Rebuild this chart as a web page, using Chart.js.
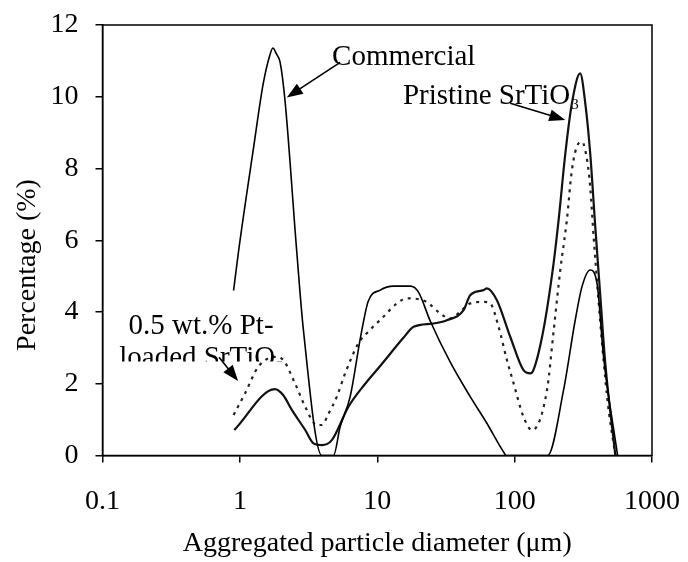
<!DOCTYPE html>
<html>
<head>
<meta charset="utf-8">
<script src="https://cdn.jsdelivr.net/npm/chart.js@4.4.1/dist/chart.umd.min.js"></script>
<style>
html,body{margin:0;padding:0;background:#fff;}
#wrap{width:688px;height:562px;position:relative;}
</style>
</head>
<body>
<div id="wrap"><canvas id="chart"></canvas></div>
<script>
// particle size distributions, x = diameter (um), y = percentage
var commercialX = [0.9, 0.98, 1.25, 1.48, 1.65, 1.74, 1.84, 1.96, 2.13, 2.59, 2.9, 3.95, 4.8, 5.37, 6.35, 7.6, 8.6, 10.5, 13.1, 17.4, 19.9, 24.3, 34, 47.5, 62.8, 83, 87, 174, 227, 276, 309, 355, 398, 444, 562];
var commercialY = [4.6, 5.72, 8.51, 10.37, 11.15, 11.36, 11.2, 10.97, 9.9, 5.72, 3.5, 0, 0, 0.8, 1.64, 3.35, 4.3, 4.61, 4.72, 4.72, 4.56, 3.75, 2.6, 1.64, 0.9, 0.1, 0, 0, 1.82, 3.77, 4.7, 5.17, 4.8, 2.75, 0];

var pristineX = [0.91, 1.8, 2.07, 2.39, 2.99, 3.43, 3.95, 4.67, 6.17, 8.17, 10.8, 15.5, 18.4, 25.7, 32.1, 42.5, 47.5, 59.3, 62.8, 74.3, 92.9, 116, 130, 137, 162, 192, 209, 234, 261, 300, 327, 355, 386, 421, 457, 541];
var pristineY = [0.71, 1.85, 1.68, 1.27, 0.71, 0.34, 0.29, 0.43, 1.36, 2.0, 2.55, 3.28, 3.59, 3.68, 3.77, 4.05, 4.47, 4.61, 4.66, 4.33, 3.31, 2.38, 2.29, 2.38, 3.5, 5.35, 6.56, 8.42, 9.81, 10.65, 9.81, 8.42, 6.4, 4.42, 2.57, 0];

var ptLoadedX = [0.9, 1.09, 1.36, 1.8, 2.07, 2.52, 2.99, 3.63, 3.95, 4.42, 5.08, 5.84, 7.3, 8.87, 11.1, 13.9, 16.4, 22.9, 28.7, 34, 40, 47.5, 59.3, 66.4, 76.4, 87.9, 98.3, 116, 134, 172, 192, 215, 240, 261, 292, 310, 337, 355, 376, 471, 541];
var ptLoadedY = [1.13, 1.73, 2.47, 2.75, 2.66, 2.01, 1.36, 0.85, 0.85, 1.17, 1.64, 2.29, 3.13, 3.5, 3.87, 4.24, 4.38, 4.28, 3.96, 3.82, 4.0, 4.24, 4.28, 4.24, 3.59, 2.66, 2.01, 1.08, 0.71, 1.82, 3.45, 5.17, 6.56, 7.95, 8.7, 8.74, 8.23, 7.49, 6.09, 1.64, 0];

var xTickValues = [0.1, 1, 10, 100, 1000];
var xTickLabels = ['0.1', '1', '10', '100', '1000'];

var FONT = '"Liberation Serif", "Times New Roman", serif';

function pts(xs, ys) {
    return xs.map(function (x, i) { return {x: x, y: ys[i]}; });
}

// arrow + label positions in data units
var notes = [
    {text: 'Commercial', at: [4.69, 10.88], from: [5.37, 10.96], to: [2.196, 9.98]},
    {text: 'Pristine SrTiO', sub: '3', at: [15.37, 9.81], from: [92.9, 9.82], to: [233.7, 9.35]},
    {text: '0.5 wt.% Pt-', center: true, at: [0.5216, 3.40], from: [0.7056, 2.74], to: [0.970, 2.08]},
    {text: 'loaded SrTiO', sub: '3', center: true, at: [0.5216, 2.49], clipVal: 2.62}
];

function arrow(ctx, x1, y1, x2, y2) {
    var a = Math.atan2(y2 - y1, x2 - x1), len = 16, w = 6;
    ctx.beginPath();
    ctx.moveTo(x1, y1);
    ctx.lineTo(x2 - Math.cos(a) * len * 0.8, y2 - Math.sin(a) * len * 0.8);
    ctx.lineWidth = 1.6;
    ctx.stroke();
    ctx.beginPath();
    ctx.moveTo(x2, y2);
    ctx.lineTo(x2 - Math.cos(a) * len + Math.sin(a) * w, y2 - Math.sin(a) * len - Math.cos(a) * w);
    ctx.lineTo(x2 - Math.cos(a) * len - Math.sin(a) * w, y2 - Math.sin(a) * len + Math.cos(a) * w);
    ctx.closePath();
    ctx.fill();
}

var extras = {
    id: 'extras',
    afterDraw: function (chart) {
        var ctx = chart.ctx, xs = chart.scales.x, ys = chart.scales.y, ca = chart.chartArea;
        ctx.save();
        ctx.strokeStyle = '#000';
        ctx.fillStyle = '#000';
        ctx.lineWidth = 1.5;
        ctx.strokeRect(ca.left, ca.top, ca.right - ca.left, ca.bottom - ca.top);

        // y axis title, sits a bit below the middle
        ctx.save();
        ctx.translate(28, 265);
        ctx.rotate(-Math.PI / 2);
        ctx.font = '28px ' + FONT;
        ctx.textAlign = 'center';
        ctx.textBaseline = 'middle';
        ctx.fillText('Percentage (%)', 0, 0);
        ctx.restore();

        notes.forEach(function (n) {
            var px = xs.getPixelForValue(n.at[0]), py = ys.getPixelForValue(n.at[1]);
            ctx.save();
            if (n.clipVal !== undefined) {
                ctx.beginPath();
                ctx.rect(0, 0, chart.width, ys.getPixelForValue(n.clipVal));
                ctx.clip();
            }
            ctx.font = '29px ' + FONT;
            ctx.textBaseline = 'alphabetic';
            ctx.textAlign = 'left';
            var w = ctx.measureText(n.text).width;
            var subW = 0;
            if (n.sub) {
                ctx.font = '15px ' + FONT;
                subW = ctx.measureText(n.sub).width;
                ctx.font = '29px ' + FONT;
            }
            var left = n.center ? px - (w + subW) / 2 : px;
            ctx.fillText(n.text, left, py);
            if (n.sub) {
                ctx.font = '15px ' + FONT;
                ctx.fillText(n.sub, left + w + 1, py + 5);
            }
            ctx.restore();
            if (n.from) {
                arrow(ctx, xs.getPixelForValue(n.from[0]), ys.getPixelForValue(n.from[1]),
                    xs.getPixelForValue(n.to[0]), ys.getPixelForValue(n.to[1]));
            }
        });
        ctx.restore();
    }
};

var tickFont = {family: FONT, size: 28};

new Chart(document.getElementById('chart'), {
    type: 'line',
    data: {
        datasets: [
            {label: 'Commercial', data: pts(commercialX, commercialY), borderColor: '#000', borderWidth: 1.6},
            {label: 'Pristine SrTiO3', data: pts(pristineX, pristineY), borderColor: '#111', borderWidth: 2.2},
            {label: '0.5 wt.% Pt-loaded SrTiO3', data: pts(ptLoadedX, ptLoadedY), borderColor: '#222', borderWidth: 2.2, borderDash: [3, 5]}
        ]
    },
    options: {
        responsive: true,
        maintainAspectRatio: false,
        animation: false,
        layout: {padding: {top: 25, right: 36, left: 0, bottom: 0}},
        elements: {
            point: {radius: 0},
            line: {cubicInterpolationMode: 'monotone', fill: false}
        },
        plugins: {legend: {display: false}, tooltip: {enabled: false}},
        scales: {
            x: {
                type: 'logarithmic',
                min: 0.1,
                max: 1000,
                afterBuildTicks: function (s) {
                    s.ticks = xTickValues.map(function (v) { return {value: v}; });
                },
                afterFit: function (s) {
                    s.height = 106.5;
                    s.paddingLeft = 0;
                    s.paddingRight = 0;
                },
                ticks: {
                    callback: function (v, i) { return xTickLabels[i]; },
                    font: tickFont, color: '#000', padding: 22, maxRotation: 0, autoSkip: false
                },
                grid: {display: true, drawOnChartArea: false, drawTicks: true, tickLength: 7, color: '#000', lineWidth: 1.5},
                border: {display: true, color: '#000', width: 1.5},
                title: {display: true, text: 'Aggregated particle diameter (\u03bcm)', font: tickFont, color: '#000', padding: {top: 0, bottom: 2}}
            },
            y: {
                min: 0,
                max: 12,
                afterFit: function (s) {
                    s.width = 102.5;
                    s.paddingTop = 0;
                    s.paddingBottom = 0;
                },
                ticks: {stepSize: 2, font: tickFont, color: '#000', padding: 17},
                grid: {display: true, drawOnChartArea: false, drawTicks: true, tickLength: 7, color: '#000', lineWidth: 1.5},
                border: {display: true, color: '#000', width: 1.5}
            }
        }
    },
    plugins: [extras]
});
</script>
</body>
</html>
